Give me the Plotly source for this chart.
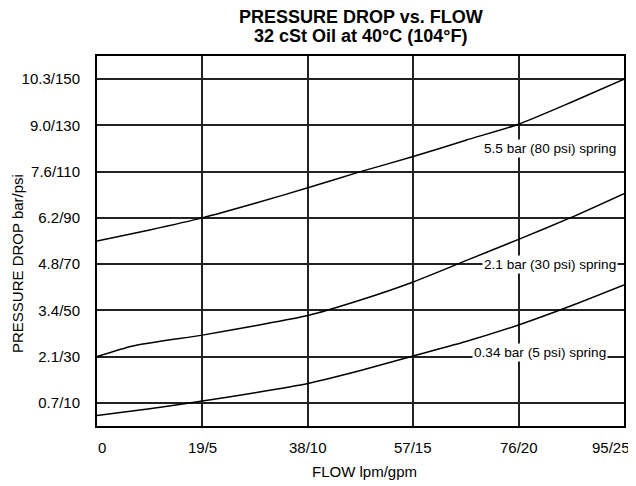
import plotly.graph_objects as go

# ---- data (flow in gpm, pressure drop in psi) ----
flow_80 = [0, 2.5, 5, 7.5, 10, 12.5, 15, 17.5, 20, 22.5, 25]
dp_80 = [80, 84.8, 90, 96.3, 103, 110, 116.5, 123.6, 130.5, 140, 150]

flow_30 = [0, 1.7, 5, 7.5, 10, 12.5, 15, 17.5, 20, 22.5, 25]
dp_30 = [30, 34.6, 39.3, 43.4, 47.8, 54.5, 62.3, 71.5, 80.7, 90.2, 100.5]

flow_5 = [0, 2.5, 5, 7.5, 10, 12.5, 15, 17.5, 20, 22.5, 25]
dp_5 = [4.5, 7.5, 10.8, 14.4, 18.4, 24, 30.3, 36.5, 43.7, 52, 61]

x_tickvals = [0, 5, 10, 15, 20, 25]
x_ticktext = ["0", "19/5", "38/10", "57/15", "76/20", "95/25"]
y_tickvals = [10, 30, 50, 70, 90, 110, 130, 150]
y_ticktext = ["0.7/10", "2.1/30", "3.4/50", "4.8/70", "6.2/90", "7.6/110", "9.0/130", "10.3/150"]

series_labels = ["5.5 bar (80 psi) spring", "2.1 bar (30 psi) spring", "0.34 bar (5 psi) spring"]
label_pos = [(21.47, 119.8), (21.51, 70), (21.02, 31.8)]

FONT = "Arial, Liberation Sans, Helvetica, sans-serif"
OFF = 8  # page body margin offset in the browser

fig = go.Figure()
for fx, fy in [(flow_80, dp_80), (flow_30, dp_30), (flow_5, dp_5)]:
    fig.add_trace(go.Scatter(x=fx, y=fy, mode="lines",
                             line=dict(color="black", width=1.5, shape="spline", smoothing=0.6),
                             hoverinfo="skip", showlegend=False))

for txt, (lx, ly) in zip(series_labels, label_pos):
    fig.add_annotation(x=lx, y=ly, xref="x", yref="y", text=txt, showarrow=False,
                       font=dict(family=FONT, size=13.6, color="black"),
                       bgcolor="white", borderpad=1)

# x tick labels (edge labels pulled inside the frame as in the original)
for i, (tv, tt) in enumerate(zip(x_tickvals, x_ticktext)):
    if i == 0:
        anchor, shift = "center", 5
    elif i == len(x_tickvals) - 1:
        anchor, shift = "right", 8
    else:
        anchor, shift = "center", 0
    fig.add_annotation(x=tv, y=(426 - 447) / 370, xref="x", yref="paper", text=tt,
                       showarrow=False, xanchor=anchor, yanchor="middle", xshift=shift,
                       font=dict(family=FONT, size=15, color="black"))

# titles
fig.add_annotation(x=0.5, y=(426 - 17) / 370, xref="paper", yref="paper",
                   text="<b>PRESSURE DROP vs. FLOW</b>", showarrow=False,
                   font=dict(family=FONT, size=18, color="black"), yanchor="middle")
fig.add_annotation(x=0.5, y=(426 - 36) / 370, xref="paper", yref="paper",
                   text="<b>32 cSt Oil at 40°C (104°F)</b>", showarrow=False,
                   font=dict(family=FONT, size=18, color="black"), yanchor="middle")
fig.add_annotation(x=(364 - 97) / 527, y=(426 - 471) / 370, xref="paper", yref="paper",
                   text="FLOW lpm/gpm", showarrow=False,
                   font=dict(family=FONT, size=15, color="black"), yanchor="middle")
fig.add_annotation(x=(17 - 97) / 527, y=(426 - 264) / 370, xref="paper", yref="paper",
                   text="PRESSURE DROP bar/psi", showarrow=False, textangle=-90,
                   font=dict(family=FONT, size=15, color="black"), xanchor="center", yanchor="middle")

fig.update_xaxes(range=[0, 25], tickvals=x_tickvals, showticklabels=False,
                 showgrid=True, gridcolor="#222", gridwidth=1.5,
                 showline=True, linecolor="black", linewidth=2, mirror=True,
                 zeroline=False, fixedrange=True)
fig.update_yaxes(range=[0, 160], tickvals=y_tickvals, ticktext=y_ticktext,
                 showgrid=True, gridcolor="#222", gridwidth=1.5,
                 showline=True, linecolor="black", linewidth=2, mirror=True,
                 ticks="outside", ticklen=12, tickcolor="rgba(0,0,0,0)",
                 tickfont=dict(family=FONT, size=15, color="black"), zeroline=False, fixedrange=True)

fig.update_layout(width=636 - OFF, height=486 - OFF,
                  margin=dict(l=97 - OFF, r=12, t=56 - OFF, b=60, autoexpand=False),
                  paper_bgcolor="white", plot_bgcolor="white", showlegend=False)

fig.write_html("out.html")
